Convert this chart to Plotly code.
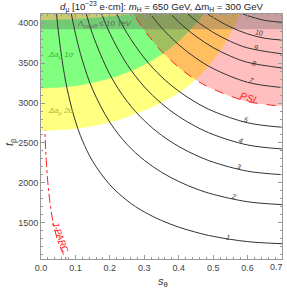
import plotly.graph_objects as go

# ---------------- data ----------------
X_RANGE = [0.0, 0.7]
Y_RANGE = [1045, 4117]
X_TICKS = [0.0, 0.1, 0.2, 0.3, 0.4, 0.5, 0.6, 0.7]
X_TICK_TEXT = ["0.0", "0.1", "0.2", "0.3", "0.4", "0.5", "0.6", "0.7"]
Y_TICKS = [1500, 2000, 2500, 3000, 3500, 4000]

# d_mu contour lines (units 1e-23 e cm): s_theta / t_beta points
d1_s = [0.0452, 0.05, 0.065, 0.08, 0.1, 0.12, 0.15, 0.2, 0.25, 0.3, 0.35, 0.4, 0.45, 0.5, 0.6, 0.7]
d1_t = [4117, 3914, 3434, 3098, 2773, 2534, 2271, 1976, 1778, 1635, 1528, 1445, 1380, 1329, 1263, 1237]
d2_s = [0.0883, 0.1, 0.12, 0.15, 0.2, 0.25, 0.3, 0.35, 0.4, 0.45, 0.5, 0.6, 0.7]
d2_t = [4117, 3871, 3538, 3171, 2759, 2482, 2283, 2133, 2017, 1926, 1856, 1763, 1727]
d3_s = [0.1316, 0.15, 0.2, 0.25, 0.3, 0.35, 0.4, 0.45, 0.5, 0.6, 0.7]
d3_t = [4117, 3861, 3359, 3022, 2780, 2597, 2456, 2346, 2260, 2146, 2103]
d4_s = [0.1762, 0.2, 0.25, 0.3, 0.35, 0.4, 0.45, 0.5, 0.6, 0.7]
d4_t = [4117, 3874, 3485, 3205, 2995, 2832, 2705, 2606, 2475, 2425]
d5_s = [0.2199, 0.25, 0.3, 0.35, 0.4, 0.45, 0.5, 0.6, 0.7]
d5_t = [4117, 3876, 3565, 3330, 3150, 3008, 2898, 2753, 2697]
d7_s = [0.3176, 0.35, 0.4, 0.45, 0.5, 0.6, 0.7]
d7_t = [4117, 3946, 3731, 3564, 3433, 3261, 3195]
d8_s = [0.3768, 0.4, 0.45, 0.5, 0.55, 0.6, 0.7]
d8_t = [4117, 4017, 3837, 3696, 3589, 3511, 3440]
d9_s = [0.4267, 0.45, 0.5, 0.55, 0.6, 0.7]
d9_t = [4117, 4034, 3887, 3774, 3692, 3617]
d10_s = [0.4843, 0.5, 0.55, 0.6, 0.65, 0.7]
d10_t = [4117, 4073, 3954, 3868, 3813, 3790]
d11_s = [0.5865, 0.6, 0.65, 0.7]
d11_t = [4117, 4096, 4037, 4013]

# PSI sensitivity line (d_mu = 6)
psi_s = [0.25, 0.2687, 0.3, 0.35, 0.4, 0.45, 0.5, 0.6, 0.7]
psi_t = [4257, 4117, 3915, 3650, 3450, 3290, 3175, 3020, 2962]

# J-PARC sensitivity line
jparc_s = [0.0047, 0.0065, 0.0089, 0.0109, 0.0138, 0.0199, 0.0276, 0.0354, 0.0472, 0.0603, 0.0733]
jparc_t = [4117, 3500, 3000, 2700, 2400, 2000, 1700, 1500, 1300, 1150, 1045]

# Delta a_mu bands
yellow_s = [0, 0.1, 0.2, 0.29, 0.35, 0.42, 0.48, 0.53, 0.56, 0.585, 0.61]
yellow_t = [2655, 2678, 2755, 2890, 3005, 3190, 3430, 3720, 3950, 4190, 4490]
green_lo_s = [0, 0.1, 0.2, 0.25, 0.3, 0.35, 0.4, 0.45, 0.48, 0.5]
green_lo_t = [3186, 3215, 3307, 3382, 3480, 3609, 3776, 3997, 4164, 4296]
green_hi_s = [0, 0.1, 0.2, 0.27, 0.35, 0.42, 0.5]
green_hi_t = [4042, 4055, 4085, 4117, 4165, 4230, 4330]

# Lambda_cutoff <= 10 TeV region (t_beta above)
lambda_t = 3925

# contour label texts, positions, angles
lab_text = ["1", "2", "3", "4", "5", "7", "8", "9", "10"]
lab_s = [0.544, 0.560, 0.574, 0.582, 0.594, 0.611, 0.619, 0.625, 0.633]
lab_t = [1312, 1830, 2207, 2534, 2794, 3279, 3501, 3693, 3882]
lab_ang = [9, 12, 15, 17, 18, 19, 13, 12, 10]
psi_lab = (0.601, 3070, 18)

# ---------------- styling ----------------
FONT = "Liberation Sans, Arial, sans-serif"
YELLOW = "#FFFF80"
GREEN = "#80FF80"
PINK = "rgba(255,0,0,0.25)"
GRAYBAND = "rgba(90,90,90,0.32)"
LINE = "#333333"
RED = "#FF2020"
FRAME = "#999999"

fig = go.Figure()
pad_s, pad_t = 0.05, 400
top = Y_RANGE[1]

# J-PARC (under the bands)
fig.add_trace(go.Scatter(x=jparc_s, y=jparc_t, mode="lines",
                         line=dict(color=RED, width=1, dash="dashdot", shape="spline"),
                         hoverinfo="skip"))
# yellow 2 sigma
fig.add_trace(go.Scatter(x=[-pad_s] + yellow_s + [yellow_s[-1], -pad_s],
                         y=[yellow_t[0]] + yellow_t + [top + pad_t, top + pad_t],
                         mode="lines", fill="toself", fillcolor=YELLOW,
                         line=dict(width=0, shape="spline"), hoverinfo="skip"))
# green 1 sigma
fig.add_trace(go.Scatter(x=[-pad_s] + green_lo_s + green_hi_s[::-1] + [-pad_s],
                         y=[green_lo_t[0]] + green_lo_t + green_hi_t[::-1] + [green_hi_t[0]],
                         mode="lines", fill="toself", fillcolor=GREEN,
                         line=dict(width=0, shape="spline"), hoverinfo="skip"))
# PSI region
fig.add_trace(go.Scatter(x=psi_s + [X_RANGE[1] + pad_s, X_RANGE[1] + pad_s, psi_s[0]],
                         y=psi_t + [psi_t[-1], top + pad_t, top + pad_t],
                         mode="lines", fill="toself", fillcolor=PINK,
                         line=dict(width=0, shape="spline"), hoverinfo="skip"))
# Lambda band
fig.add_trace(go.Scatter(x=[-pad_s, X_RANGE[1] + pad_s, X_RANGE[1] + pad_s, -pad_s],
                         y=[lambda_t, lambda_t, top + pad_t, top + pad_t],
                         mode="lines", fill="toself", fillcolor=GRAYBAND,
                         line=dict(width=0), hoverinfo="skip"))
# contour lines
for s, t in [(d1_s, d1_t), (d2_s, d2_t), (d3_s, d3_t), (d4_s, d4_t), (d5_s, d5_t),
             (d7_s, d7_t), (d8_s, d8_t), (d9_s, d9_t), (d10_s, d10_t), (d11_s, d11_t)]:
    fig.add_trace(go.Scatter(x=s, y=t, mode="lines",
                             line=dict(color=LINE, width=1, shape="spline"),
                             hoverinfo="skip"))
# PSI dashed line
fig.add_trace(go.Scatter(x=psi_s, y=psi_t, mode="lines",
                         line=dict(color=RED, width=1, dash="dash", shape="spline"),
                         hoverinfo="skip"))

ann = []
for txt, s, t, a in zip(lab_text, lab_s, lab_t, lab_ang):
    ann.append(dict(x=s, y=t, xref="x", yref="y", text="<i>%s</i>" % txt, showarrow=False,
                    textangle=a, font=dict(family=FONT, size=7, color="#333333")))
ann.append(dict(x=psi_lab[0], y=psi_lab[1], xref="x", yref="y", text="<i>PSI</i>",
                showarrow=False, textangle=psi_lab[2],
                font=dict(family=FONT, size=10, color=RED)))
ann.append(dict(x=0.059, y=3601, xref="x", yref="y", text="<i>Δa<sub>μ</sub> 1σ</i>",
                showarrow=False, font=dict(family=FONT, size=8, color="#3CB83C")))
ann.append(dict(x=0.059, y=2902, xref="x", yref="y", text="<i>Δa<sub>μ</sub> 2σ</i>",
                showarrow=False, font=dict(family=FONT, size=8, color="#B4B03A")))
ann.append(dict(x=0.184, y=3991, xref="x", yref="y",
                text="<i>Λ<sub>cutoff</sub> ≤ 10 TeV</i>",
                showarrow=False, font=dict(family=FONT, size=8, color="#5A6A5A")))
ann.append(dict(x=0.055, y=1316, xref="x", yref="y", text="<i>J-PARC</i>", showarrow=False,
                textangle=70, font=dict(family=FONT, size=9, color=RED)))
ann.append(dict(x=0.506, y=-0.094, xref="paper", yref="paper", xanchor="center",
                yanchor="middle", text="<i>s</i><sub>θ</sub>", showarrow=False,
                font=dict(family=FONT, size=11, color="#333333")))
ann.append(dict(x=-0.128, y=0.478, xref="paper", yref="paper", xanchor="center",
                yanchor="middle", text="<i>t</i><sub>β</sub>", showarrow=False, textangle=-90,
                font=dict(family=FONT, size=11, color="#333333")))
# last x tick label (would overflow the page edge, so placed just inside like the reference)
ann.append(dict(x=0.979, y=-0.031, xref="paper", yref="paper", xanchor="center",
                yanchor="middle", text=X_TICK_TEXT[-1], showarrow=False,
                font=dict(family=FONT, size=9, color="#444444")))

axis_common = dict(showline=True, linecolor=FRAME, linewidth=1, mirror="allticks",
                   ticks="inside", ticklen=4, tickcolor=FRAME, showgrid=False,
                   zeroline=False, automargin=False,
                   tickfont=dict(family=FONT, size=9, color="#444444"))

fig.update_layout(
    width=287, height=290,
    margin=dict(l=41, r=5, t=14, b=31),
    paper_bgcolor="white", plot_bgcolor="white",
    showlegend=False,
    title=dict(text="<i>d</i><sub>μ</sub> [10<sup>−23</sup> e·cm]: <i>m</i><sub>H</sub> = 650 GeV, Δm<sub>H</sub> = 300 GeV",
               x=0.5627, xref="container", xanchor="center",
               y=1 - 7 / 290, yref="container", yanchor="middle",
               font=dict(family=FONT, size=9.6, color="#222222")),
    xaxis=dict(range=X_RANGE, tickmode="array", tickvals=X_TICKS,
               ticktext=X_TICK_TEXT[:-1] + [""],
               minor=dict(dtick=0.02, tick0=0, ticklen=2, tickcolor=FRAME, ticks="inside"),
               **axis_common),
    yaxis=dict(range=Y_RANGE, tickmode="array", tickvals=Y_TICKS,
               minor=dict(dtick=100, tick0=0, ticklen=2, tickcolor=FRAME, ticks="inside"),
               **axis_common),
    annotations=ann,
)

fig.write_html("out.html", config={"displayModeBar": False},
               post_script="document.body.style.margin='0';document.body.style.overflow='hidden';")
